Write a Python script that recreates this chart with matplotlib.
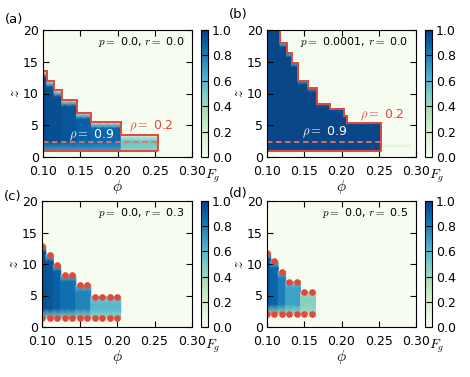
import numpy as np
import matplotlib
matplotlib.use("Agg")
import matplotlib.pyplot as plt
from matplotlib.cm import ScalarMappable
from matplotlib.colors import Normalize

plt.rcParams["mathtext.fontset"] = "cm"
plt.rcParams["font.family"] = "DejaVu Sans"
plt.rcParams["font.size"] = 9

# (a) p = 0.0, r = 0.0
a_edges = [0.100, 0.105, 0.115, 0.125, 0.135, 0.145, 0.155, 0.165, 0.175,
           0.185, 0.195, 0.205, 0.215, 0.225, 0.235, 0.245, 0.255]
a_top = [13.5, 12.0, 10.5, 9.0, 9.0, 7.0, 7.0, 5.5, 5.5, 5.5, 5.5,
         3.5, 3.5, 3.5, 3.5, 3.5]
a_fmid = [0.97, 0.95, 0.95, 0.93, 0.93, 0.90, 0.90, 0.88, 0.88, 0.88, 0.88,
          0.55, 0.55, 0.53, 0.53, 0.53]
a_ftop = [0.15] * 16
a_fbot = [0.68] * 11 + [0.45] * 5
a_bottom = 1.0
a_rho09 = 2.4

# (b) p = 0.0001, r = 0.0
b_edges = [0.100, 0.1175, 0.1265, 0.133, 0.142, 0.1555, 0.1665, 0.185,
           0.2027, 0.2072, 0.253]
b_top = [21.0, 17.9, 16.3, 14.8, 12.0, 10.8, 8.4, 7.6, 6.5, 5.4]
b_fmid = [0.98] * 10
b_ftop = [0.55, 0.55, 0.6, 0.6, 0.65, 0.7, 0.85, 0.9, 0.95, 0.95]
b_fbot = [0.97] * 10
b_bottom = 0.9
b_rho09 = 2.35
b_stripe_edges = [0.255, 0.292]
b_stripe_z = [1.5, 1.8, 2.1]
b_stripe_f = [0.0, 0.12, 0.0]

# (c) p = 0.0, r = 0.3
c_phi = [0.10, 0.11, 0.12, 0.13, 0.14, 0.15, 0.16, 0.17, 0.18, 0.19, 0.20]
c_edges = [0.100, 0.105, 0.115, 0.125, 0.135, 0.145, 0.155, 0.165, 0.175,
           0.185, 0.195, 0.205]
c_top = [12.9, 11.4, 9.8, 8.2, 8.2, 6.6, 6.6, 4.8, 4.8, 4.8, 4.8]
c_fmid = [0.95, 0.93, 0.90, 0.85, 0.85, 0.78, 0.78, 0.60, 0.60, 0.60, 0.60]
c_ftop = [0.55] * 7 + [0.48] * 4
c_fbot = [0.42] * 11
c_bottom = 1.42

# (d) p = 0.0, r = 0.5
d_phi = [0.10, 0.11, 0.12, 0.13, 0.14, 0.15, 0.16]
d_edges = [0.100, 0.105, 0.115, 0.125, 0.135, 0.145, 0.155, 0.165]
d_top = [11.8, 10.4, 8.8, 7.2, 7.2, 5.5, 5.5]
d_fmid = [0.92, 0.88, 0.80, 0.68, 0.68, 0.47, 0.47]
d_ftop = [0.5] * 5 + [0.38] * 2
d_fbot = [0.38] * 7
d_bottom = 2.1

cmap = plt.get_cmap("GnBu")
norm = Normalize(0, 1)
red = "#e2483a"
pink = "#e8706a"


def columns(ax, edges, top, fmid, ftop, fbot, bottom, dz_t=1.0, dz_b=1.5):
    for i in range(len(top)):
        lo = min(bottom + dz_b, (bottom + top[i]) / 2)
        hi = max(top[i] - dz_t, lo)
        z = [bottom, lo, hi, top[i]]
        f = np.array([fbot[i], fmid[i], fmid[i], ftop[i]])
        X, Y = np.meshgrid([edges[i], edges[i + 1]], z)
        C = np.tile(f[:, None], (1, 2))
        ax.pcolormesh(X, Y, C, shading="gouraud", cmap=cmap, norm=norm)


def setup(ax, cax, label, lx, ly, ptext):
    ax.set_facecolor(cmap(0.0))
    ax.set_xlim(0.10, 0.30)
    ax.set_ylim(0, 20)
    ax.set_xticks([0.10, 0.15, 0.20, 0.25, 0.30])
    ax.set_xticklabels(["0.10", "0.15", "0.20", "0.25", "0.30"])
    ax.set_yticks([0, 5, 10, 15, 20])
    ax.tick_params(direction="in", top=True, right=True, length=4, pad=3)
    ax.tick_params(axis="x", pad=5.5)
    ax.set_xlabel(r"$\phi$", fontsize=11, labelpad=0.5)
    ax.set_ylabel(r"$z$", fontsize=11, labelpad=0.5)
    ax.text(0.29, 18.1, ptext, ha="right", va="center", fontsize=8)
    cb = plt.colorbar(ScalarMappable(norm=norm, cmap=cmap), cax=cax,
                      ticks=[0, 0.2, 0.4, 0.6, 0.8, 1.0])
    cb.ax.set_yticklabels(["0.0", "0.2", "0.4", "0.6", "0.8", "1.0"])
    cb.ax.tick_params(direction="in", length=4, pad=3)
    cb.outline.set_linewidth(0.8)
    cax.text(1.65, -0.15, r"$F_g$", transform=cax.transAxes,
             ha="center", va="center", fontsize=10)
    fig.text(lx, ly, label, fontsize=9.5, ha="left", va="center")


fig = plt.figure(figsize=(4.70, 3.77), dpi=100)
W, H = 470.0, 377.0
ax_a = fig.add_axes([43 / W, 1 - 157 / H, 149 / W, 127 / H])
ax_b = fig.add_axes([267 / W, 1 - 157 / H, 149 / W, 127 / H])
ax_c = fig.add_axes([42 / W, 1 - 327 / H, 150 / W, 126 / H])
ax_d = fig.add_axes([267 / W, 1 - 327 / H, 149 / W, 126 / H])
cax_a = fig.add_axes([201 / W, 1 - 157 / H, 7 / W, 127 / H])
cax_b = fig.add_axes([425 / W, 1 - 157 / H, 7 / W, 127 / H])
cax_c = fig.add_axes([201 / W, 1 - 327 / H, 7 / W, 126 / H])
cax_d = fig.add_axes([425 / W, 1 - 327 / H, 7 / W, 126 / H])

# (a)
columns(ax_a, a_edges, a_top, a_fmid, a_ftop, a_fbot, a_bottom)
ax_a.stairs(a_top, a_edges, baseline=a_bottom, color=red, lw=1.4)
ax_a.hlines(a_bottom, a_edges[0], a_edges[-1], color=red, lw=1.4)
ax_a.hlines(a_rho09, a_edges[0], a_edges[-1], color=pink, lw=1.3,
            linestyles=(0, (3, 2)))
ax_a.text(0.166, 3.4, r"$\rho=$ 0.9", color="white", ha="center",
          va="center", fontsize=9)
ax_a.text(0.245, 4.8, r"$\rho=$ 0.2", color=red, ha="center",
          va="center", fontsize=9)
setup(ax_a, cax_a, "(a)", 0.010, 0.948, r"$p=$ 0.0, $r=$ 0.0")

# (b)
columns(ax_b, b_edges, b_top, b_fmid, b_ftop, b_fbot, b_bottom, dz_t=0.6)
X, Y = np.meshgrid(b_stripe_edges, b_stripe_z)
ax_b.pcolormesh(X, Y, np.tile(np.array(b_stripe_f)[:, None], (1, 2)),
                shading="gouraud", cmap=cmap, norm=norm)
ax_b.stairs(b_top, b_edges, baseline=b_bottom, color=red, lw=1.4)
ax_b.hlines(b_bottom, b_edges[0], b_edges[-1], color=red, lw=1.4)
ax_b.hlines(b_rho09, b_edges[0], b_edges[-1], color=pink, lw=1.3,
            linestyles=(0, (3, 2)))
ax_b.text(0.177, 3.9, r"$\rho=$ 0.9", color="white", ha="center",
          va="center", fontsize=9)
ax_b.text(0.255, 6.5, r"$\rho=$ 0.2", color=red, ha="center",
          va="center", fontsize=9)
setup(ax_b, cax_b, "(b)", 0.488, 0.962, r"$p=$ 0.0001, $r=$ 0.0")

# (c)
columns(ax_c, c_edges, c_top, c_fmid, c_ftop, c_fbot, c_bottom)
ax_c.plot(c_phi, c_top, "o", color=red, ms=4.8, mec="none")
ax_c.plot(c_phi, [c_bottom] * len(c_phi), "o", color=red, ms=4.8, mec="none")
setup(ax_c, cax_c, "(c)", 0.008, 0.478, r"$p=$ 0.0, $r=$ 0.3")

# (d)
columns(ax_d, d_edges, d_top, d_fmid, d_ftop, d_fbot, d_bottom)
ax_d.plot(d_phi, d_top, "o", color=red, ms=4.8, mec="none")
ax_d.plot(d_phi, [d_bottom] * len(d_phi), "o", color=red, ms=4.8, mec="none")
setup(ax_d, cax_d, "(d)", 0.486, 0.488, r"$p=$ 0.0, $r=$ 0.5")

fig.savefig("out.png", dpi=100)
